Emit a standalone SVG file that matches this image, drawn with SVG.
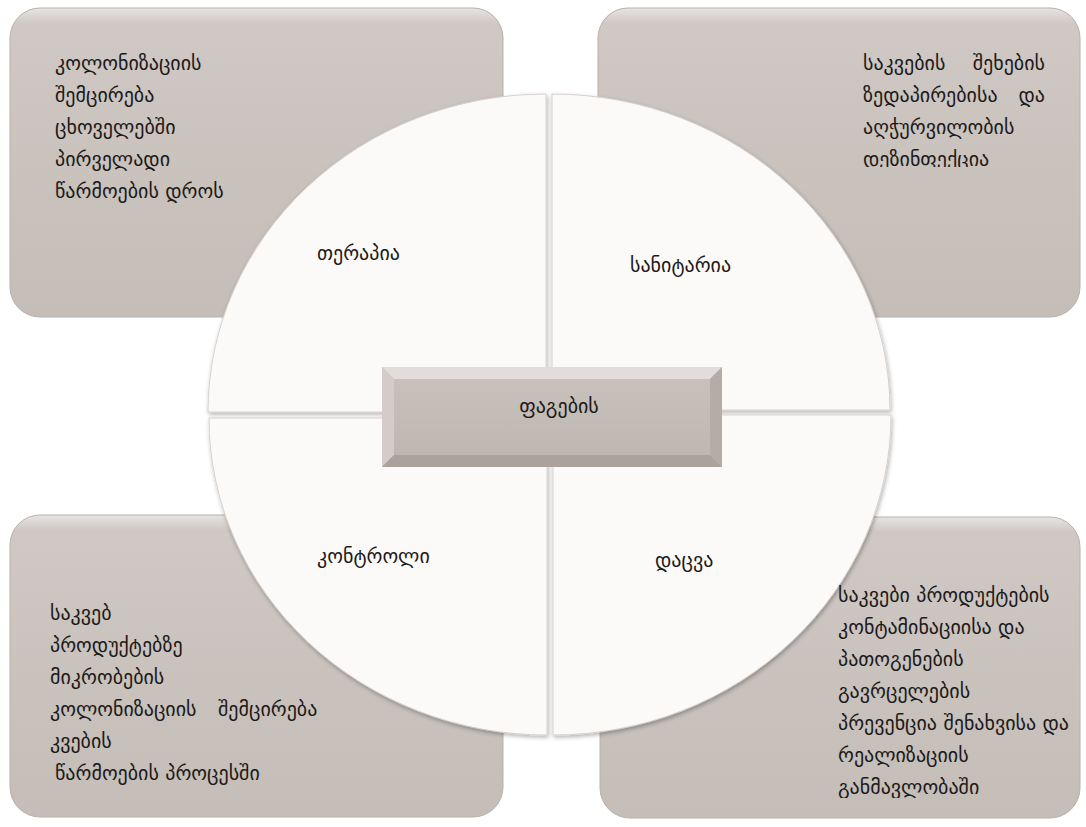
<svg xmlns="http://www.w3.org/2000/svg" width="1086" height="827" viewBox="0 0 1086 827">
<style>
  .t { font-family: "DejaVu Sans", sans-serif; font-size: 20px; fill: #1c1a19; }
  .box { fill: url(#boxGrad); stroke: #b9b0ab; stroke-width: 1; }
  .quad { fill: #fcfaf8; stroke: #d6d0cc; stroke-width: 1; filter: url(#sh); }
</style>
<defs>
  <linearGradient id="boxGrad" x1="0" y1="0" x2="0" y2="1">
    <stop offset="0" stop-color="#e8e4e1"/>
    <stop offset="0.05" stop-color="#cfc8c4"/>
    <stop offset="0.5" stop-color="#cac2bd"/>
    <stop offset="1" stop-color="#c5bdb8"/>
  </linearGradient>
  <linearGradient id="faceGrad" x1="0" y1="0" x2="0" y2="1">
    <stop offset="0" stop-color="#c9c2bd"/>
    <stop offset="1" stop-color="#bdb5b0"/>
  </linearGradient>
  <filter id="sh" x="-10%" y="-10%" width="120%" height="120%">
    <feDropShadow dx="1" dy="2" stdDeviation="2" flood-color="#000" flood-opacity="0.3"/>
  </filter>
  <clipPath id="clipTR"><rect x="850" y="40" width="220" height="127"/></clipPath>
  <clipPath id="clipBR"><rect x="830" y="570" width="245" height="228"/></clipPath>
</defs>
<rect width="1086" height="827" fill="#ffffff"/>

<g id="box-tl"><rect class="box" x="10" y="8" width="493" height="309" rx="30"/></g>
<g id="box-tr"><rect class="box" x="598" y="8" width="482" height="309" rx="30"/></g>
<g id="box-bl"><rect class="box" x="10" y="515" width="493" height="302" rx="30"/></g>
<g id="box-br"><rect class="box" x="600" y="517" width="480" height="301" rx="30"/></g>

<g id="connectors"></g>

<g id="quad-tl"><path class="quad" d="M546 412 L208 412 A338 318 0 0 1 546 94 Z"/></g>
<g id="quad-tr"><path class="quad" d="M552 410 L552 94 A338 316 0 0 1 890 410 Z"/></g>
<g id="quad-bl"><path class="quad" d="M547 418 L547 735 A338 317 0 0 1 209 418 Z"/></g>
<g id="quad-br"><path class="quad" d="M553 415 L891 415 A338 320 0 0 1 553 735 Z"/></g>

<g id="center">
  <rect x="382" y="367" width="340" height="100" fill="url(#faceGrad)"/>
  <polygon points="382,367 722,367 710,379 394,379" fill="#e2ddda"/>
  <polygon points="382,367 394,379 394,455 382,467" fill="#d3ccc8"/>
  <polygon points="382,467 394,455 710,455 722,467" fill="#aaa29d"/>
  <polygon points="722,367 722,467 710,455 710,379" fill="#b4aca7"/>
  <text class="t" x="559" y="413" text-anchor="middle">ფაგების</text>
</g>

<g id="label-tl"><text class="t" x="317" y="260">თერაპია</text></g>
<g id="label-tr"><text class="t" x="630" y="272">სანიტარია</text></g>
<g id="label-bl"><text class="t" x="317" y="563">კონტროლი</text></g>
<g id="label-br"><text class="t" x="655" y="567">დაცვა</text></g>

<g id="text-tl">
  <text class="t" x="55" y="70">კოლონიზაციის</text>
  <text class="t" x="55" y="102">შემცირება</text>
  <text class="t" x="55" y="134">ცხოველებში</text>
  <text class="t" x="55" y="166">პირველადი</text>
  <text class="t" x="55" y="198">წარმოების დროს</text>
</g>

<g id="text-tr" clip-path="url(#clipTR)">
  <text class="t" x="863" y="70">საკვების</text>
  <text class="t" x="1045" y="70" text-anchor="end">შეხების</text>
  <text class="t" x="863" y="102">ზედაპირებისა</text>
  <text class="t" x="1045" y="102" text-anchor="end">და</text>
  <text class="t" x="863" y="134">აღჭურვილობის</text>
  <text class="t" x="863" y="166">დეზინფექცია</text>
</g>

<g id="text-bl">
  <text class="t" x="50" y="620">საკვებ</text>
  <text class="t" x="50" y="652">პროდუქტებზე</text>
  <text class="t" x="50" y="684">მიკრობების</text>
  <text class="t" x="50" y="716">კოლონიზაციის</text>
  <text class="t" x="218" y="716">შემცირება</text>
  <text class="t" x="50" y="748">კვების</text>
  <text class="t" x="55" y="780">წარმოების პროცესში</text>
</g>

<g id="text-br" clip-path="url(#clipBR)">
  <text class="t" x="838" y="602">საკვები პროდუქტების</text>
  <text class="t" x="838" y="634">კონტამინაციისა და</text>
  <text class="t" x="838" y="666">პათოგენების</text>
  <text class="t" x="838" y="698">გავრცელების</text>
  <text class="t" x="838" y="730">პრევენცია შენახვისა და</text>
  <text class="t" x="838" y="762">რეალიზაციის</text>
  <text class="t" x="838" y="794">განმავლობაში</text>
</g>
</svg>
